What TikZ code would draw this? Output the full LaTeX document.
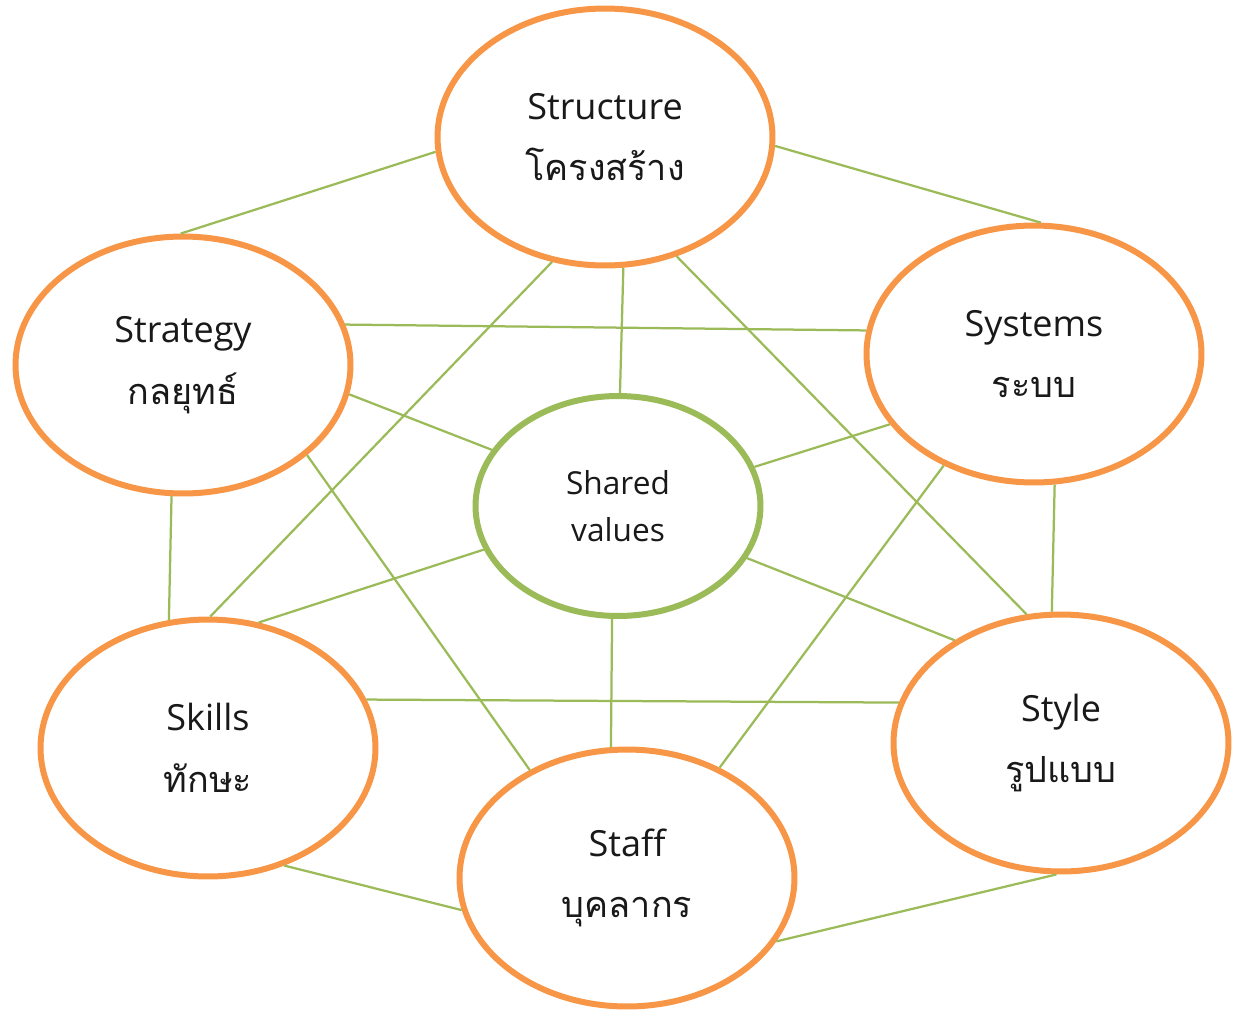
\documentclass[tikz,border=0pt]{standalone}
\usepackage{fontspec}
\setmainfont{Open Sans}
\newfontfamily\thaifont[Script=Thai]{Loma}
\usepackage{tikz}
\usetikzlibrary{shapes.geometric}
\definecolor{s_orange}{RGB}{247,150,70}
\definecolor{s_green}{RGB}{155,187,89}
\tikzset{
    ring_orange/.style={ellipse, draw=s_orange, line width=0.12cm, fill=white, minimum width=6.7cm, minimum height=5.14cm, align=center, text=black!90, font=\fontsize{20.5}{35}\selectfont},
    ring_green/.style={ellipse, draw=s_green, line width=0.12cm, fill=white, minimum width=5.7cm, minimum height=4.4cm, align=center, text=black!90, font=\fontsize{18}{27}\selectfont},
    link/.style={draw=s_green, line width=0.045cm}
}

\begin{document}
\begin{tikzpicture}[x=0.02cm, y=-0.02cm]
    \useasboundingbox (0,0) rectangle (1235,1012);
    \node (structure) [ring_orange] at (605,137) {Structure\\{\thaifont โครงสร้าง}};
    \node (strategy) [ring_orange] at (183,365) {Strategy\\{\thaifont กลยุทธ์}};
    \node (systems) [ring_orange] at (1034,354) {Systems\\{\thaifont ระบบ}};
    \node (shared) [ring_green] at (618,506) {Shared\\values};
    \node (skills) [ring_orange] at (208,748) {Skills\\{\thaifont ทักษะ}};
    \node (style) [ring_orange] at (1061,743) {Style\\{\thaifont รูปแบบ}};
    \node (staff) [ring_orange] at (627,878) {Staff\\{\thaifont บุคลากร}};

    \draw [link] (structure.185) -- (strategy.91);
    \draw [link] (structure.357) -- (systems.87);
    \draw [link] (strategy.14.5) -- (systems.172);
    \draw [link] (structure.247) -- (skills.89);
    \draw [link] (structure.278) -- (shared.89);
    \draw [link] (structure.301) -- (style.105.6);
    \draw [link] (strategy.350.7) -- (shared.156);
    \draw [link] (strategy.324) -- (staff.132.5);
    \draw [link] (strategy.265) -- (skills.107);
    \draw [link] (systems.206) -- (shared.16);
    \draw [link] (systems.231.9) -- (staff.50);
    \draw [link] (systems.279) -- (style.94.8);
    \draw [link] (shared.198.7) -- (skills.68.4);
    \draw [link] (shared.338.9) -- (style.136.9);
    \draw [link] (shared.267.5) -- (staff.97);
    \draw [link] (skills.17.8) -- (style.166.6);
    \draw [link] (skills.303) -- (staff.191.9);
    \draw [link] (staff.337.7) -- (style.268.7);
\end{tikzpicture}
\end{document}
